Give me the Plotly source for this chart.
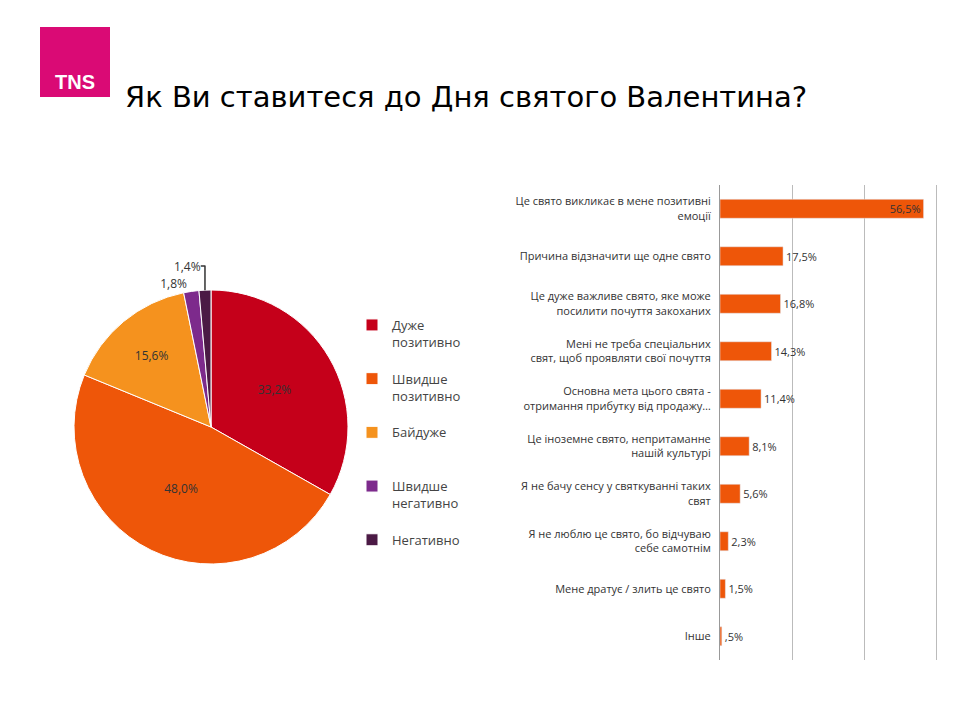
import plotly.graph_objects as go

pie_labels = ["Дуже<br>позитивно<br> ", "Швидше<br>позитивно<br> ", "Байдуже<br> <br> ", "Швидше<br>негативно<br> ", "Негативно"]
pie_values = [33.2, 48.0, 15.6, 1.8, 1.4]
pie_text = ["33,2%", "48,0%", "15,6%", "1,8%", "1,4%"]
pie_colors = ["#C5001A", "#EE5609", "#F5921E", "#7D2A8C", "#4B1A45"]

bar_labels = ["Це свято викликає в мене позитивні<br>емоції",
              "Причина відзначити ще одне свято",
              "Це дуже важливе свято, яке може<br>посилити почуття закоханих",
              "Мені не треба спеціальних<br>свят, щоб проявляти свої почуття",
              "Основна мета цього свята -<br>отримання прибутку від продажу…",
              "Це іноземне свято, непритаманне<br>нашій культурі",
              "Я не бачу сенсу у святкуванні таких<br>свят",
              "Я не люблю це свято, бо відчуваю<br>себе самотнім",
              "Мене дратує / злить це свято",
              "Інше"]
bar_values = [56.5, 17.5, 16.8, 14.3, 11.4, 8.1, 5.6, 2.3, 1.5, 0.5]
bar_text = ["56,5%", "17,5%", "16,8%", "14,3%", "11,4%", "8,1%", "5,6%", "2,3%", "1,5%", ",5%"]

OFF = 8
def px(x): return (x - OFF) / 960
def py(y): return 1 - (y - OFF) / 720

fig = go.Figure()
fig.add_trace(go.Pie(
    labels=pie_labels, values=pie_values, text=pie_text, texttemplate="%{text}",
    textposition=["inside", "inside", "inside", "outside", "outside"],
    insidetextorientation="horizontal",
    marker=dict(colors=pie_colors, line=dict(color="white", width=1)),
    sort=False, direction="clockwise", rotation=0,
    domain=dict(x=[px(74), px(348)], y=[py(564), py(290)]),
    textfont=dict(size=12, color="#333"), outsidetextfont=dict(size=12, color="#333"),
    showlegend=True,
))
fig.add_trace(go.Bar(
    y=bar_labels, x=bar_values, orientation="h", text=bar_text,
    textposition=["inside"] + ["outside"] * 9, insidetextanchor="end",
    textfont=dict(size=11, color="#333"), insidetextfont=dict(size=11, color="#333"),
    cliponaxis=False, constraintext="none",
    marker=dict(color="#EE5609"), width=0.4, showlegend=False,
))
fig.update_layout(
    width=960, height=720, margin=dict(l=0, r=0, t=0, b=0),
    paper_bgcolor="white", plot_bgcolor="white",
    font=dict(family="Open Sans, DejaVu Sans", color="#333"),
    xaxis=dict(domain=[px(720), px(938)], range=[0, 60.5], tickvals=[0, 20, 40, 60], showticklabels=False,
               showgrid=True, gridcolor="#BBBBBB", zeroline=False, showline=False),
    yaxis=dict(domain=[py(660), py(185)], autorange="reversed", showgrid=False,
               showline=True, linecolor="#999", ticks="", tickfont=dict(size=11, color="#333"),
               ticklabelstandoff=6),
    legend=dict(x=px(352), y=py(310), xanchor="left", yanchor="top", valign="top",
                font=dict(size=13, color="#444"), itemwidth=30, traceorder="normal"),
    title=dict(text="Як Ви ставитеся до Дня святого Валентина?", x=px(125), xanchor="left",
               y=py(97), yanchor="middle", font=dict(size=29, color="black", family="DejaVu Sans")),
    shapes=[dict(type="rect", xref="paper", yref="paper", x0=px(40), x1=px(110),
                 y0=py(97), y1=py(27), fillcolor="#DA0A75", line=dict(width=0), layer="below")],
    annotations=[dict(text="<b>TNS</b>", xref="paper", yref="paper", x=px(75), y=py(82),
                      xanchor="center", yanchor="middle", showarrow=False,
                      font=dict(size=20, color="white", family="Liberation Sans"))],
)
fig.write_html("out.html")
